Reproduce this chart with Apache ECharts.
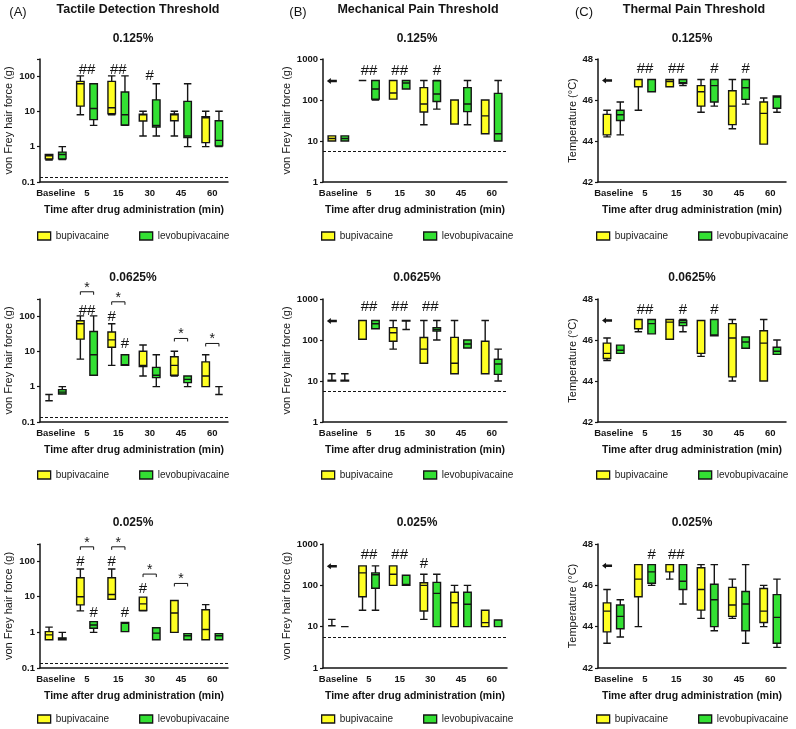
<!DOCTYPE html>
<html>
<head>
<meta charset="utf-8">
<script src="https://cdn.jsdelivr.net/npm/echarts@6.0.0/dist/echarts.min.js"></script>
<style>
  html, body { margin: 0; background: #fff; }
  #chart { width: 796px; height: 729px; }
</style>
</head>
<body>
<div id="chart"></div>
<script>
var categories = ['Baseline', '5', '15', '30', '45', '60'];
var seriesNames = ['bupivacaine', 'levobupivacaine'];
var doseLabels = ['0.125%', '0.0625%', '0.025%'];
var panelLetters = ['(A)', '(B)', '(C)'];
var panelTitles = ['Tactile Detection Threshold', 'Mechanical Pain Threshold', 'Thermal Pain Threshold'];

// box data: [min, Q1, median, Q3, max] per time point
var tactileBupi125 = [[0.42, 0.45, 0.55, 0.6, 0.6], [8, 14, 60, 70, 100], [8, 8.5, 12.5, 70, 100], [2, 5.3, 8, 8.3, 10], [2, 5.4, 8, 8.4, 10], [1, 1.3, 6.5, 7, 10]];
var tactileLevo125 = [[0.43, 0.45, 0.6, 0.7, 1], [4, 5.8, 12, 60, 60], [4, 4.1, 8, 35, 100], [2, 3.6, 4, 21, 60], [1, 1.8, 2, 19, 60], [1, 1.05, 1.5, 5.4, 10]];
var tactileBupi0625 = [[0.4, 0.6, 0.6, 0.6, 0.6], [6, 22, 60, 73, 100], [4, 13, 21, 35, 60], [2, 3.7, 4, 10, 15], [2, 2.1, 4, 7, 10], [1, 1, 2, 5, 8]];
var tactileLevo0625 = [[0.62, 0.62, 0.7, 0.82, 1], [2.1, 2.1, 8, 36, 100], [4, 4, 4.2, 8, 8], [1, 1.8, 2.1, 3.5, 8], [1, 1.3, 1.6, 2, 2], [0.6, 1, 1, 1, 1]];
var tactileBupi025 = [[0.62, 0.62, 0.85, 1.05, 1.4], [4, 5.9, 10, 34, 60], [8.5, 8.5, 11.5, 34, 60], [4, 4.1, 6.3, 9.7, 9.7], [1, 1, 3.5, 7.8, 7.8], [0.62, 0.62, 1.2, 4.3, 6]];
var tactileLevo025 = [[0.62, 0.62, 0.65, 0.7, 1], [1, 1.3, 1.6, 2, 2], [1.05, 1.05, 1.8, 1.9, 1.9], [0.62, 0.62, 0.95, 1.35, 1.35], [0.62, 0.62, 0.8, 0.92, 0.92], [0.62, 0.62, 0.8, 0.92, 0.92]];

var mechBupi125 = [[10, 10, 11.5, 13.3, 13.3], [300, 300, 300, 300, 300], [105, 105, 148, 300, 300], [25, 51, 80, 200, 300], [26, 26, 100, 100, 100], [15, 15, 41, 100, 100]];
var mechLevo125 = [[10, 10, 11.5, 13.3, 13.3], [100, 105, 185, 300, 300], [185, 185, 260, 300, 300], [60, 92, 140, 295, 300], [25, 52, 80, 200, 300], [10, 10, 15, 145, 300]];
var mechBupi0625 = [[10, 10, 10.5, 10.5, 15], [104, 104, 300, 300, 300], [60, 93, 150, 200, 300], [27, 27, 60, 115, 300], [15, 15, 27, 116, 300], [15, 15, 15, 93, 300]];
var mechLevo0625 = [[10, 10, 10.5, 10.5, 15], [188, 188, 250, 300, 300], [180, 290, 300, 300, 300], [100, 165, 180, 200, 300], [64, 64, 80, 100, 100], [10, 14.5, 26, 34, 60]];
var mechBupi025 = [[10.5, 10.5, 10.5, 10.5, 15], [25, 53, 200, 295, 295], [100, 100, 185, 295, 295], [15, 24, 100, 115, 185], [10, 10, 38, 68, 100], [10, 10, 12.5, 25, 25]];
var mechLevo025 = [[10, 10, 10, 10, 10], [25, 85, 180, 200, 295], [100, 100, 105, 175, 175], [10, 10, 64, 118, 185], [10, 10, 35, 68, 100], [10, 10, 10, 14.5, 14.5]];

var thermBupi125 = [[44.2, 44.3, 45.3, 45.3, 45.5], [45.5, 46.65, 47, 47, 47], [46.65, 46.65, 46.9, 47, 47], [45.4, 45.7, 46.4, 46.7, 47], [44.6, 44.8, 45.7, 46.45, 47], [43.85, 43.85, 45.35, 45.9, 46.1]];
var thermLevo125 = [[44.3, 45.0, 45.28, 45.5, 45.9], [46.4, 46.4, 47, 47, 47], [46.7, 46.8, 46.85, 47, 47], [45.7, 45.9, 46.7, 47, 47], [45.8, 46.03, 46.6, 47, 47], [45.4, 45.6, 46.15, 46.2, 46.2]];
var thermBupi0625 = [[45, 45.1, 45.35, 45.85, 46.1], [46.4, 46.55, 47, 47, 47], [46.04, 46.04, 46.87, 47, 47], [45.2, 45.35, 46.95, 46.95, 46.95], [44, 44.2, 46.1, 46.8, 47], [44, 44, 45.85, 46.45, 47]];
var thermLevo0625 = [[45.35, 45.35, 45.5, 45.75, 45.75], [46.3, 46.3, 46.8, 47, 47], [46.4, 46.7, 46.85, 46.95, 47], [46.2, 46.2, 46.25, 47, 47], [45.6, 45.6, 45.9, 46.15, 46.15], [45.3, 45.3, 45.45, 45.65, 46]];
var thermBupi025 = [[43.2, 43.75, 44.75, 45.15, 45.8], [44, 45.45, 46.3, 47, 47], [46.3, 46.65, 47, 47, 47], [44.4, 44.8, 45.8, 46.85, 47], [44.4, 44.5, 45.05, 45.9, 46.3], [44, 44.2, 44.75, 45.85, 46]];
var thermLevo025 = [[43.5, 43.9, 44.5, 45.05, 45.3], [46, 46.1, 46.65, 47, 47], [45.1, 45.8, 46.2, 47, 47], [43.8, 44, 45.3, 46.05, 47], [43.2, 43.8, 45.1, 45.7, 47], [43, 43.2, 44.45, 45.55, 46.3]];

// annotations: [category index, value, mark, over which box]
var tactileNotes125 = [[1, 150, '##', 'c'], [2, 150, '##', 'c'], [3, 100, '#', 'c']];
var tactileNotes0625 = [[1, 480, '*', 'bracket'], [2, 250, '*', 'bracket'], [4, 23, '*', 'bracket'], [5, 16.6, '*', 'bracket'], [1, 138, '##', 'c'], [2, 91, '#', 'y'], [2, 16.6, '#', 'g']];
var tactileNotes025 = [[1, 250, '*', 'bracket'], [2, 250, '*', 'bracket'], [3, 43, '*', 'bracket'], [4, 23.5, '*', 'bracket'], [1, 96, '#', 'y'], [1, 3.5, '#', 'g'], [2, 96, '#', 'y'], [2, 3.5, '#', 'g'], [3, 17, '#', 'y']];
var mechNotes125 = [[0, 290, 'arrow', 'y'], [1, 515, '##', 'c'], [2, 515, '##', 'c'], [3, 515, '#', 'g']];
var mechNotes0625 = [[0, 290, 'arrow', 'y'], [1, 630, '##', 'c'], [2, 630, '##', 'c'], [3, 630, '##', 'c']];
var mechNotes025 = [[0, 290, 'arrow', 'y'], [1, 540, '##', 'c'], [2, 540, '##', 'c'], [3, 325, '#', 'y']];
var thermNotes125 = [[0, 46.95, 'arrow', 'y'], [1, 47.5, '##', 'c'], [2, 47.5, '##', 'c'], [3, 47.5, '#', 'g'], [4, 47.5, '#', 'g']];
var thermNotes0625 = [[0, 46.95, 'arrow', 'y'], [1, 47.47, '##', 'c'], [2, 47.47, '#', 'g'], [3, 47.47, '#', 'g']];
var thermNotes025 = [[0, 46.95, 'arrow', 'y'], [1, 47.48, '#', 'g'], [2, 47.48, '##', 'c']];

// reference lines (detection floor)
var tactileFloor = 0.14;
var mechFloor = 5.5;

var panels = [
  [tactileBupi125, tactileLevo125, tactileNotes125], [mechBupi125, mechLevo125, mechNotes125], [thermBupi125, thermLevo125, thermNotes125],
  [tactileBupi0625, tactileLevo0625, tactileNotes0625], [mechBupi0625, mechLevo0625, mechNotes0625], [thermBupi0625, thermLevo0625, thermNotes0625],
  [tactileBupi025, tactileLevo025, tactileNotes025], [mechBupi025, mechLevo025, mechNotes025], [thermBupi025, thermLevo025, thermNotes025]
];

var FONT = 'Liberation Sans';
var INK = '#151515';
var YELLOW = '#ffff22';
var GREEN = '#33e033';
var FILLS = [YELLOW, GREEN];

var colLeft = [40, 323, 598];
var colWidth = [188, 184, 188];
var rowTop = [59, 299, 544];
var rowHeight = [123, 123, 124];
var legendTop = [231, 470, 714];
var legendLeft = [37, 321, 596];
var doseCenter = [133, 417, 692];
var doseY = [39, 278, 523];

function logLabel(v) {
  var e = Math.log10(v);
  if (Math.abs(e - Math.round(e)) > 1e-6) return '';
  return String(+Math.pow(10, Math.round(e)).toFixed(1));
}

function noteRenderer(notes) {
  return function (params, api) {
    var n = notes[params.dataIndex];
    var p = api.coord([n[0], n[1]]);
    var band = api.size([1, 0])[0];
    var avail = band * 0.8 - 2;
    var off = avail * 1.15 / 4;
    var x = p[0];
    if (n[3] === 'y') x -= off;
    if (n[3] === 'g') x += off;
    var y = p[1];
    if (n[2] === 'arrow') {
      return {
        type: 'polygon',
        shape: { points: [[x - 5, y], [x - 1, y - 3], [x - 1, y - 1.2], [x + 5, y - 1.2], [x + 5, y + 1.2], [x - 1, y + 1.2], [x - 1, y + 3]] },
        style: { fill: INK }
      };
    }
    if (n[3] === 'bracket') {
      return {
        type: 'group',
        children: [
          { type: 'polyline', shape: { points: [[x - off, y + 3], [x - off, y], [x + off, y], [x + off, y + 3]] }, style: { stroke: INK, lineWidth: 1, fill: null } },
          { type: 'text', x: x, y: y - 4, style: { text: n[2], fontSize: 14, fontFamily: FONT, fill: INK, align: 'center', verticalAlign: 'middle' } }
        ]
      };
    }
    return {
      type: 'text', x: x, y: y,
      style: { text: n[2], fontSize: 15, fontFamily: FONT, fill: INK, align: 'center', verticalAlign: 'middle' }
    };
  };
}

var grids = [], xAxes = [], yAxes = [], series = [], legends = [], graphics = [];

for (var i = 0; i < 9; i++) {
  var row = Math.floor(i / 3), col = i % 3;
  grids.push({ left: colLeft[col], top: rowTop[row], width: colWidth[col], height: rowHeight[row], outerBoundsMode: 'none' });
  xAxes.push({
    gridIndex: i, type: 'category', data: categories,
    name: 'Time after drug administration (min)', nameLocation: 'middle', nameGap: 23,
    nameTextStyle: { fontFamily: FONT, fontSize: 10.5, fontWeight: 'bold', color: INK },
    axisLine: { lineStyle: { color: INK, width: 1.5 } },
    axisTick: { alignWithLabel: true, length: 3, lineStyle: { color: INK, width: 1.2 } },
    axisLabel: { fontFamily: FONT, fontSize: 9.5, fontWeight: 'bold', color: INK, margin: 6, interval: 0 },
    splitLine: { show: false }
  });
  var y = {
    gridIndex: i,
    nameLocation: 'middle',
    nameTextStyle: { fontFamily: FONT, fontSize: 11, color: INK },
    axisLine: { show: true, lineStyle: { color: INK, width: 1.5 } },
    axisTick: { show: true, length: 3, lineStyle: { color: INK, width: 1.2 } },
    axisLabel: { fontFamily: FONT, fontSize: 9.5, fontWeight: 'bold', color: INK, margin: 5 },
    splitLine: { show: false }
  };
  if (col === 2) {
    y.type = 'value'; y.min = 42; y.max = 48; y.interval = 2;
    y.name = 'Temperature (°C)'; y.nameGap = 19;
  } else {
    y.type = 'log'; y.logBase = 10;
    y.min = col === 0 ? 0.1 : 1; y.max = col === 0 ? 300 : 1000;
    y.name = 'von Frey hair force (g)'; y.nameGap = col === 0 ? 26 : 25;
    y.axisLabel.formatter = logLabel;
  }
  yAxes.push(y);

  for (var s = 0; s < 2; s++) {
    var box = {
      name: seriesNames[s], type: 'boxplot', xAxisIndex: i, yAxisIndex: i,
      data: panels[i][s], boxWidth: [7, 7.5],
      itemStyle: { color: FILLS[s], borderColor: INK, borderWidth: 1.4 },
      emphasis: { disabled: true }, silent: true, z: 3
    };
    if (s === 1 && col < 2) {
      box.markLine = {
        silent: true, symbol: 'none', label: { show: false },
        lineStyle: { color: INK, type: [3, 2], width: 1 },
        data: [{ yAxis: col === 0 ? tactileFloor : mechFloor }]
      };
    }
    series.push(box);
  }
  var notes = panels[i][2];
  series.push({
    name: 'notes', type: 'custom', xAxisIndex: i, yAxisIndex: i, silent: true, z: 5, clip: false,
    data: notes.map(function (n) { return [n[0], n[1]]; }),
    renderItem: noteRenderer(notes)
  });

  legends.push({
    data: seriesNames.map(function (name, k) {
      return { name: name, icon: 'rect', itemStyle: { color: FILLS[k], borderColor: INK, borderWidth: 1.3 } };
    }),
    left: legendLeft[col], top: legendTop[row], width: 220, padding: 0,
    itemWidth: 13, itemHeight: 8, itemGap: 30, selectedMode: false,
    textStyle: { fontFamily: FONT, fontSize: 10, color: '#222' }
  });

  graphics.push({
    type: 'text', x: doseCenter[col], y: doseY[row],
    style: { text: doseLabels[row], fontFamily: FONT, fontSize: 12, fontWeight: 'bold', fill: INK, align: 'center', verticalAlign: 'middle' }
  });
}

var letterX = [18, 298, 584];
var titleX = [138, 418, 694];
for (var c = 0; c < 3; c++) {
  graphics.push({ type: 'text', x: letterX[c], y: 12, style: { text: panelLetters[c], fontFamily: FONT, fontSize: 13, fill: INK, align: 'center', verticalAlign: 'middle' } });
  graphics.push({ type: 'text', x: titleX[c], y: 10, style: { text: panelTitles[c], fontFamily: FONT, fontSize: 12.5, fontWeight: 'bold', fill: INK, align: 'center', verticalAlign: 'middle' } });
}

var chart = echarts.init(document.getElementById('chart'), null, { renderer: 'canvas' });
chart.setOption({
  animation: false,
  backgroundColor: '#fff',
  textStyle: { fontFamily: FONT },
  grid: grids,
  xAxis: xAxes,
  yAxis: yAxes,
  legend: legends,
  graphic: graphics,
  series: series
});
</script>
</body>
</html>
